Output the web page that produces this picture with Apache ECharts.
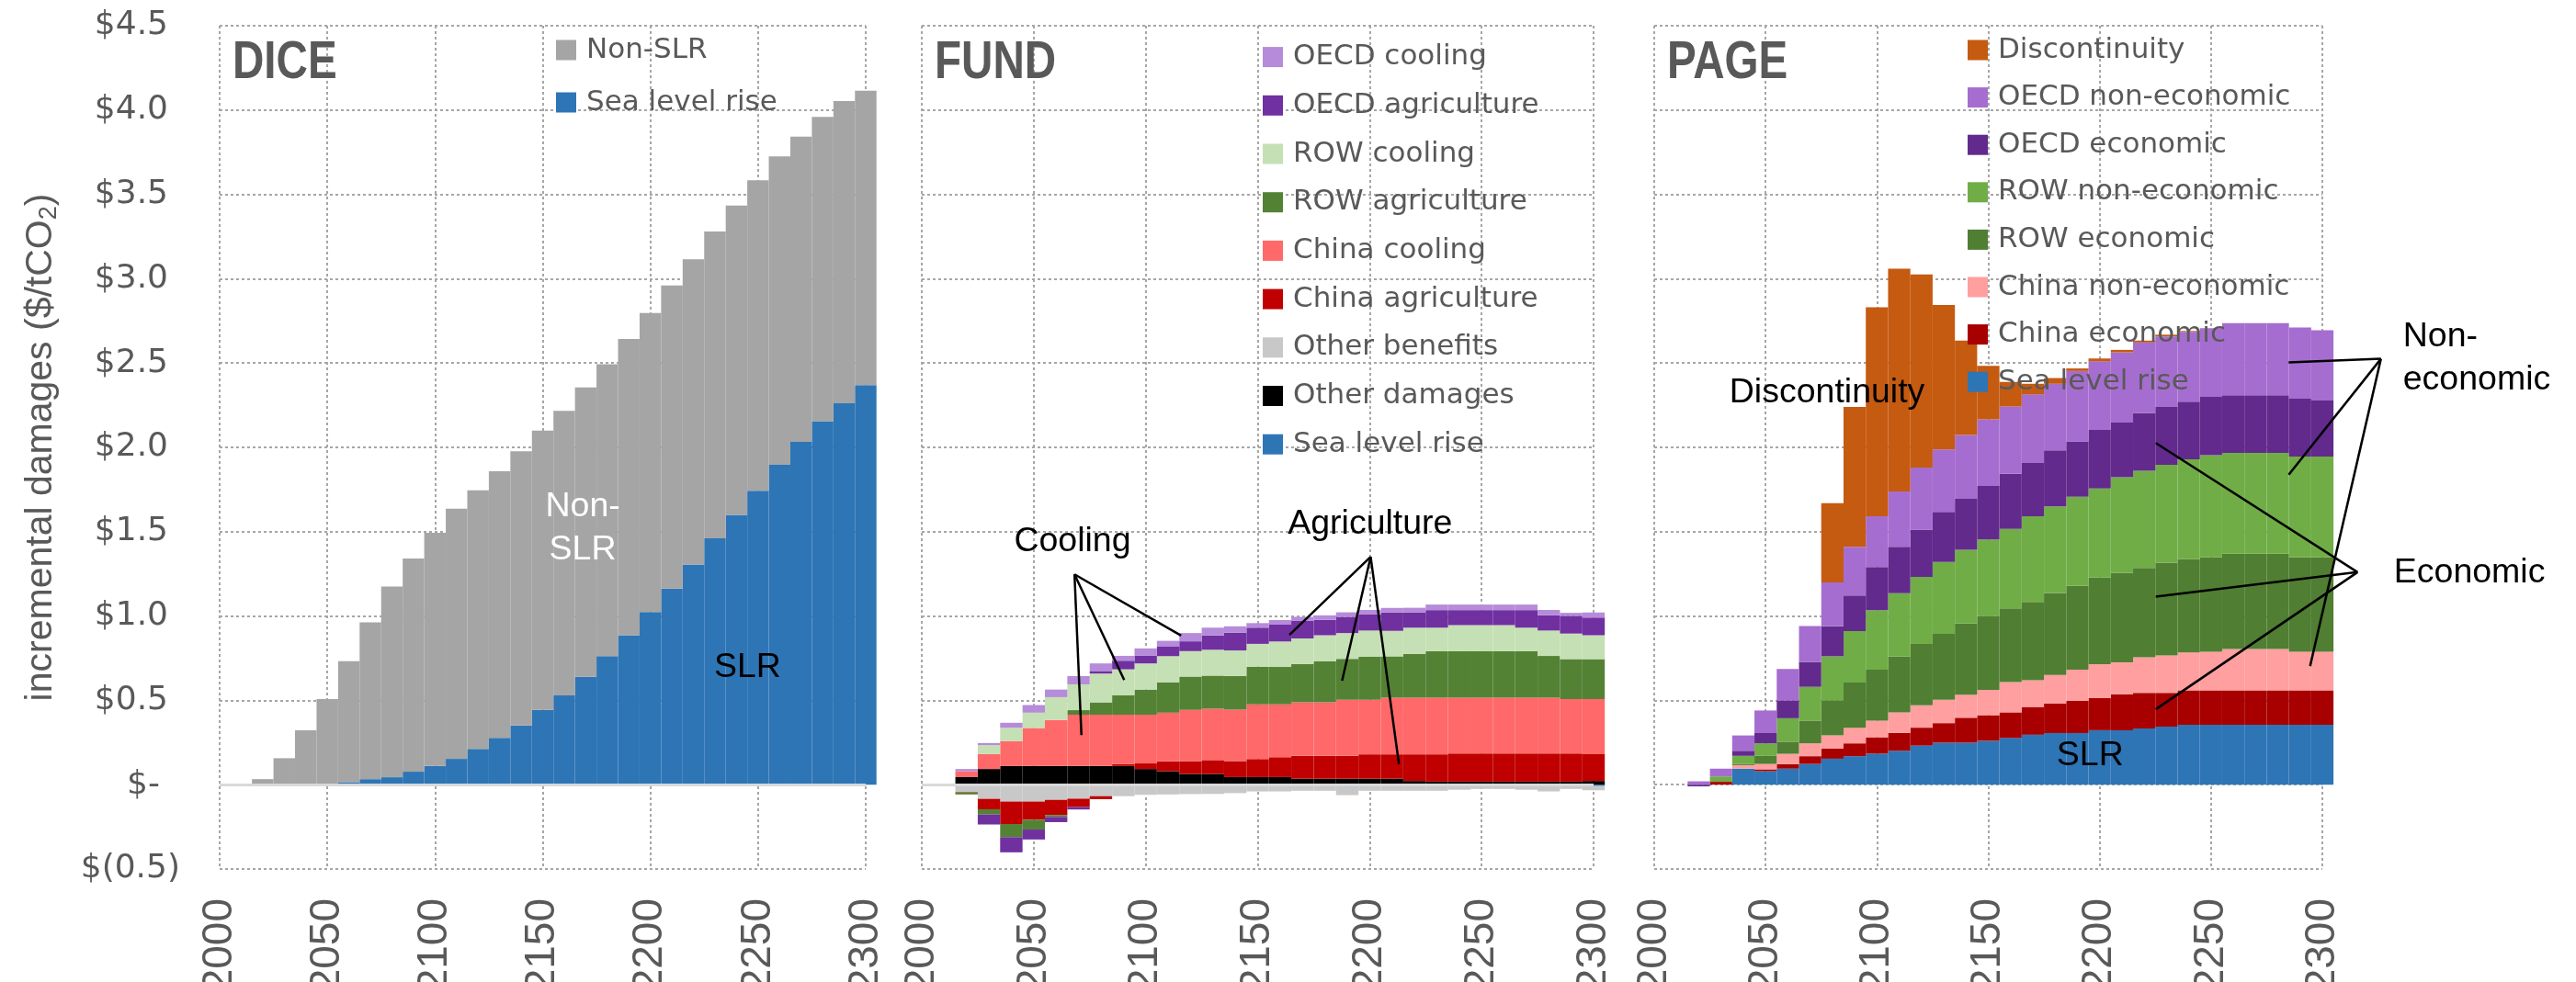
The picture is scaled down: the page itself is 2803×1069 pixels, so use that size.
<!DOCTYPE html>
<html>
<head>
<meta charset="utf-8">
<script src="https://cdn.jsdelivr.net/npm/echarts@6.0.0/dist/echarts.min.js"></script>
<style>
  html, body { margin: 0; padding: 0; background: #fff; }
  #chart { width: 2803px; height: 1069px; }
</style>
</head>
<body>
<div id="chart"></div>
<script>
// bar centres (each bar covers 10 years)
const years = [2020, 2030, 2040, 2050, 2060, 2070, 2080, 2090, 2100, 2110, 2120, 2130, 2140, 2150,
  2160, 2170, 2180, 2190, 2200, 2210, 2220, 2230, 2240, 2250, 2260, 2270, 2280, 2290, 2300]
const yTicks = [-0.5, 0, 0.5, 1, 1.5, 2, 2.5, 3, 3.5, 4, 4.5]
const xTicks = [2000, 2050, 2100, 2150, 2200, 2250, 2300]

// DICE
const diceSLR = [0, 0, 0, 0, 0.015, 0.033, 0.044, 0.077, 0.111, 0.153, 0.212, 0.277, 0.351, 0.443,
  0.530, 0.640, 0.762, 0.886, 1.024, 1.162, 1.306, 1.461, 1.600, 1.742, 1.896, 2.033, 2.155, 2.262, 2.369]
const diceNonSLR = [0.033, 0.157, 0.323, 0.507, 0.717, 0.930, 1.131, 1.264, 1.383, 1.484, 1.534, 1.581,
  1.626, 1.656, 1.687, 1.716, 1.731, 1.757, 1.772, 1.798, 1.809, 1.819, 1.834, 1.842, 1.829, 1.810,
  1.805, 1.791, 1.746]

// FUND
const fundSLR = [0, 0, 0, 0, 0, 0, 0, 0, 0, 0, 0, 0, 0, 0, 0, 0, 0, -0.012, 0, 0, 0, 0, 0, 0, 0, 0, 0, 0, -0.008]
const fundOtherDamages = [0.045, 0.093, 0.111, 0.111, 0.111, 0.111, 0.111, 0.111, 0.093, 0.080, 0.064,
  0.064, 0.045, 0.045, 0.045, 0.036, 0.036, 0.036, 0.036, 0.036, 0.022, 0.018, 0.018, 0.018, 0.018,
  0.018, 0.018, 0.018, 0.022]
const fundOtherBenefits = [-0.043, -0.084, -0.100, -0.100, -0.090, -0.083, -0.068, -0.068, -0.060, -0.058,
  -0.056, -0.055, -0.050, -0.040, -0.040, -0.036, -0.036, -0.050, -0.036, -0.036, -0.036, -0.036,
  -0.030, -0.025, -0.025, -0.030, -0.040, -0.025, -0.025]
const fundChinaAgri = [-0.003, -0.062, -0.133, -0.108, -0.090, -0.050, -0.018, 0.011, 0.033, 0.058, 0.075,
  0.082, 0.095, 0.107, 0.118, 0.135, 0.135, 0.135, 0.144, 0.144, 0.158, 0.162, 0.167, 0.167, 0.167,
  0.167, 0.167, 0.167, 0.159]
const fundChinaCool = [0.035, 0.089, 0.147, 0.225, 0.273, 0.304, 0.304, 0.293, 0.289, 0.289, 0.304, 0.305,
  0.305, 0.324, 0.313, 0.318, 0.318, 0.333, 0.324, 0.336, 0.336, 0.336, 0.331, 0.331, 0.331, 0.331,
  0.331, 0.322, 0.327]
const fundRowAgri = [-0.012, -0.031, -0.078, -0.058, -0.011, 0.027, 0.073, 0.116, 0.149, 0.180, 0.198,
  0.196, 0.200, 0.224, 0.222, 0.227, 0.242, 0.242, 0.255, 0.245, 0.260, 0.275, 0.275, 0.275, 0.275,
  0.275, 0.247, 0.238, 0.236]
const fundRowCool = [0, 0.053, 0.080, 0.091, 0.135, 0.153, 0.171, 0.153, 0.155, 0.155, 0.151, 0.153, 0.151,
  0.135, 0.151, 0.151, 0.155, 0.153, 0.155, 0.151, 0.155, 0.140, 0.155, 0.155, 0.155, 0.140, 0.151,
  0.151, 0.142]
const fundOecdAgri = [0, -0.059, -0.090, -0.059, -0.031, -0.014, 0.015, 0.051, 0.045, 0.056, 0.058, 0.085,
  0.105, 0.096, 0.100, 0.104, 0.091, 0.096, 0.095, 0.109, 0.091, 0.104, 0.089, 0.089, 0.089, 0.104,
  0.091, 0.105, 0.105]
const fundOecdCool = [0.013, 0.012, 0.029, 0.045, 0.045, 0.049, 0.045, 0.029, 0.044, 0.035, 0.049, 0.046,
  0.038, 0.027, 0.027, 0.024, 0.027, 0.027, 0.027, 0.027, 0.027, 0.033, 0.033, 0.033, 0.033, 0.033,
  0.031, 0.018, 0.030]

// PAGE
const pageSLR = [0, 0, 0.095, 0.080, 0.095, 0.123, 0.154, 0.169, 0.184, 0.201, 0.232, 0.249, 0.249, 0.260,
  0.277, 0.296, 0.306, 0.306, 0.323, 0.323, 0.334, 0.344, 0.355, 0.355, 0.355, 0.355, 0.355, 0.355, 0.355]
const pageChinaEcon = [0, 0.017, 0, 0.011, 0.027, 0.046, 0.060, 0.076, 0.097, 0.106, 0.106, 0.116, 0.148,
  0.152, 0.152, 0.165, 0.176, 0.191, 0.190, 0.212, 0.211, 0.201, 0.205, 0.205, 0.205, 0.205, 0.205,
  0.205, 0.205]
const pageChinaNonEcon = [0, 0, 0.021, 0.032, 0.061, 0.076, 0.078, 0.093, 0.099, 0.122, 0.133, 0.138, 0.137,
  0.150, 0.179, 0.158, 0.169, 0.185, 0.201, 0.190, 0.211, 0.222, 0.224, 0.228, 0.245, 0.245, 0.245,
  0.228, 0.228]
const pageRowEcon = [0, 0, 0.006, 0.048, 0.072, 0.135, 0.209, 0.268, 0.302, 0.331, 0.363, 0.391, 0.422,
  0.437, 0.438, 0.465, 0.486, 0.497, 0.514, 0.532, 0.529, 0.549, 0.553, 0.560, 0.564, 0.564, 0.564,
  0.560, 0.560]
const pageRowNonEcon = [0, 0.032, 0.049, 0.074, 0.139, 0.200, 0.260, 0.304, 0.353, 0.376, 0.398, 0.426,
  0.437, 0.455, 0.471, 0.507, 0.513, 0.528, 0.528, 0.566, 0.576, 0.581, 0.592, 0.606, 0.598, 0.598,
  0.598, 0.598, 0.598]
const pageOecdEcon = [-0.010, 0, 0.030, 0.061, 0.106, 0.148, 0.179, 0.212, 0.256, 0.275, 0.281, 0.298,
  0.302, 0.317, 0.327, 0.317, 0.332, 0.328, 0.348, 0.324, 0.343, 0.343, 0.342, 0.345, 0.342, 0.342,
  0.342, 0.342, 0.332]
const pageOecdNonEcon = [0.020, 0.046, 0.091, 0.134, 0.186, 0.212, 0.260, 0.289, 0.300, 0.328, 0.367,
  0.370, 0.378, 0.395, 0.398, 0.406, 0.395, 0.418, 0.406, 0.416, 0.418, 0.418, 0.414, 0.408, 0.427,
  0.427, 0.427, 0.423, 0.416]
const pageDiscontinuity = [0, 0, 0, 0, 0, 0, 0.469, 0.829, 1.240, 1.320, 1.146, 0.856, 0.560, 0.317,
  0.146, 0.063, 0.034, 0.015, 0.017, 0.015, 0.011, 0.010, 0.005, 0, 0, 0, 0, 0, 0]

const GREY_TXT = '#595959'
const SANS = '"DejaVu Sans", "Liberation Sans", sans-serif'
const ARIAL = '"Liberation Sans", Arial, sans-serif'

const myChart = echarts.init(document.getElementById('chart'))

// value first, year second: the stack then runs on the value dimension
const bars = (name, data, color, gi, extra) => Object.assign({
  name: name,
  type: 'bar',
  stack: 'panel' + gi,
  xAxisIndex: gi,
  yAxisIndex: gi,
  barWidth: '100%',
  encode: { x: 1, y: 0 },
  data: years.map((y, i) => [data[i], y]),
  itemStyle: { color: color },
  emphasis: { disabled: true },
}, extra || {})

// solid light-grey axis line at zero
const zeroLine = {
  markLine: {
    silent: true,
    symbol: ['none', 'none'],
    label: { show: false },
    lineStyle: { color: '#d9d9d9', width: 3, type: 'solid' },
    data: [{ yAxis: 0 }],
  },
}

const gridDefs = [
  { left: 239, top: 28, width: 703, height: 918 },
  { left: 1003, top: 28, width: 731, height: 918 },
  { left: 1800, top: 28, width: 727, height: 918 },
]

const dotted = { color: '#a6a6a6', width: 2, type: [3, 3] }

const yLabel = (v) => {
  if (Math.abs(v) < 1e-9) return '{z|$-}'
  if (v < 0) return '{n|$(' + (-v).toFixed(1) + ')}'
  return '{p|$' + v.toFixed(1) + '}'
}
const tickFont = { fontFamily: SANS, fontSize: 36, color: GREY_TXT }

const legendBase = {
  orient: 'vertical',
  itemWidth: 22,
  itemHeight: 22,
  padding: 0,
  icon: 'rect',
  selectedMode: false,
  textStyle: { fontFamily: SANS, fontSize: 31, color: GREY_TXT, lineHeight: 22, padding: [0, 0, 0, 6] },
}

const option = {
  animation: false,
  backgroundColor: '#ffffff',
  grid: gridDefs,
  xAxis: gridDefs.map((g, i) => ({
    type: 'value',
    gridIndex: i,
    min: xTicks[0],
    max: xTicks[xTicks.length - 1],
    interval: 50,
    axisLine: { show: false, onZero: false },
    axisTick: { show: false },
    axisLabel: { show: false },   // drawn below as rotated text
    splitLine: { show: true, lineStyle: dotted },
  })),
  yAxis: gridDefs.map((g, i) => ({
    type: 'value',
    gridIndex: i,
    min: yTicks[0],
    max: yTicks[yTicks.length - 1],
    interval: 0.5,
    axisLine: { show: false },
    axisTick: { show: false },
    axisLabel: {
      show: i === 0,
      margin: 43,
      formatter: yLabel,
      rich: {
        p: Object.assign({ padding: [0, 13, 0, 0] }, tickFont),
        z: Object.assign({ padding: [0, 22, 0, 0] }, tickFont),
        n: Object.assign({}, tickFont),
      },
    },
    splitLine: { show: true, lineStyle: dotted },
  })),
  legend: [
    Object.assign({}, legendBase, {
      left: 605, top: 39, itemGap: 26,
      data: ['Non-SLR', 'Sea level rise'],
    }),
    Object.assign({}, legendBase, {
      left: 1374, top: 46.6, itemGap: 21.7,
      data: ['OECD cooling', 'OECD agriculture', 'ROW cooling', 'ROW agriculture', 'China cooling',
        'China agriculture', 'Other benefits', 'Other damages', 'Sea level rise'],
    }),
    Object.assign({}, legendBase, {
      left: 2141, top: 39, itemGap: 20.6,
      data: ['Discontinuity', 'OECD non-economic', 'OECD economic', 'ROW non-economic', 'ROW economic',
        'China non-economic', 'China economic', 'Sea level rise'],
    }),
  ],
  series: [
    bars('Sea level rise', diceSLR, '#2E75B6', 0, zeroLine),
    bars('Non-SLR', diceNonSLR, '#A5A5A5', 0),

    bars('Sea level rise', fundSLR, '#2E75B6', 1, zeroLine),
    bars('Other damages', fundOtherDamages, '#000000', 1),
    bars('Other benefits', fundOtherBenefits, '#C8C8C8', 1),
    bars('China agriculture', fundChinaAgri, '#C00000', 1),
    bars('China cooling', fundChinaCool, '#FF6969', 1),
    bars('ROW agriculture', fundRowAgri, '#548235', 1),
    bars('ROW cooling', fundRowCool, '#C5E0B4', 1),
    bars('OECD agriculture', fundOecdAgri, '#7030A0', 1),
    bars('OECD cooling', fundOecdCool, '#B68BDA', 1),

    bars('Sea level rise', pageSLR, '#2E75B6', 2),
    bars('China economic', pageChinaEcon, '#A80000', 2),
    bars('China non-economic', pageChinaNonEcon, '#FF9F9F', 2),
    bars('ROW economic', pageRowEcon, '#507E32', 2),
    bars('ROW non-economic', pageRowNonEcon, '#70AD47', 2),
    bars('OECD economic', pageOecdEcon, '#622A8D', 2),
    bars('OECD non-economic', pageOecdNonEcon, '#A66DD0', 2),
    bars('Discontinuity', pageDiscontinuity, '#C55A11', 2),
  ],
}
myChart.setOption(option)

// annotations, given in data coordinates of each panel
const px = (gi, pt) => myChart.convertToPixel({ gridIndex: gi }, pt)

const graphics = []
const addText = (gi, pt, text, opts) => {
  const p = px(gi, pt)
  graphics.push({
    type: 'text', x: p[0], y: p[1], z: 100,
    style: Object.assign({
      text: text, fill: '#000', align: 'center', verticalAlign: 'middle',
      fontFamily: ARIAL, fontSize: 37.5,
    }, opts || {}),
  })
}
const addFan = (gi, apex, ends) => {
  const a = px(gi, apex)
  ends.forEach((e) => {
    const b = px(gi, e)
    graphics.push({
      type: 'line', z: 99,
      shape: { x1: a[0], y1: a[1], x2: b[0], y2: b[1] },
      style: { stroke: '#000', lineWidth: 2.5 },
    })
  })
}

// year labels, rotated to read upwards, ending 31px under each panel
gridDefs.forEach((g, gi) => {
  xTicks.forEach((t) => {
    const p = px(gi, [t, yTicks[0]])
    graphics.push({
      type: 'text', x: p[0], y: p[1] + 32, rotation: Math.PI / 2, z: 100,
      style: {
        text: String(t), fill: GREY_TXT, align: 'right', verticalAlign: 'middle',
        fontFamily: ARIAL, fontSize: 46,
      },
    })
  })
})

// panel names (condensed bold)
;[['DICE', 0], ['FUND', 1], ['PAGE', 2]].forEach(([t, gi]) => {
  graphics.push({
    type: 'text', x: gridDefs[gi].left + 14, y: 69, z: 100, scaleX: 0.82,
    style: {
      text: t, fill: GREY_TXT, align: 'left', verticalAlign: 'middle',
      fontFamily: ARIAL, fontWeight: 'bold', fontSize: 58,
    },
  })
})

// y axis title
graphics.push({
  type: 'text', x: 45, y: 487, rotation: Math.PI / 2, z: 100,
  style: {
    text: 'incremental damages ($/tCO{s|2})',
    fill: GREY_TXT, align: 'center', verticalAlign: 'middle',
    fontFamily: ARIAL, fontSize: 41,
    rich: {
      s: { fontFamily: ARIAL, fontSize: 27, fill: GREY_TXT, verticalAlign: 'top', padding: [18, 0, 0, 0] },
    },
  },
})

// DICE
addText(0, [2168.6, 1.522], 'Non-\nSLR', { fill: '#ffffff', lineHeight: 47 })
addText(0, [2245.1, 0.692], 'SLR')

// FUND
addText(1, [2067.3, 1.443], 'Cooling')
addFan(1, [2068.2, 1.247], [[2071.3, 0.294], [2090.4, 0.621], [2115.8, 0.884]])
addText(1, [2200.2, 1.544], 'Agriculture')
addFan(1, [2200.45, 1.351], [[2164.2, 0.888], [2187.7, 0.617], [2213.1, 0.121]])

// PAGE
addText(2, [2077.6, 2.323], 'Discontinuity')
addText(2, [2195.7, 0.174], 'SLR')
addText(2, [2336.2, 2.527], 'Non-\neconomic', { align: 'left', lineHeight: 47 })
addFan(2, [2326.3, 2.525], [[2284.9, 2.504], [2284.9, 1.838], [2294.5, 0.703]])
addText(2, [2332.1, 1.255], 'Economic', { align: 'left' })
addFan(2, [2315.8, 1.26], [[2225.2, 2.026], [2225.2, 1.115], [2225.2, 0.447]])

myChart.setOption({ graphic: graphics })
</script>
</body>
</html>
